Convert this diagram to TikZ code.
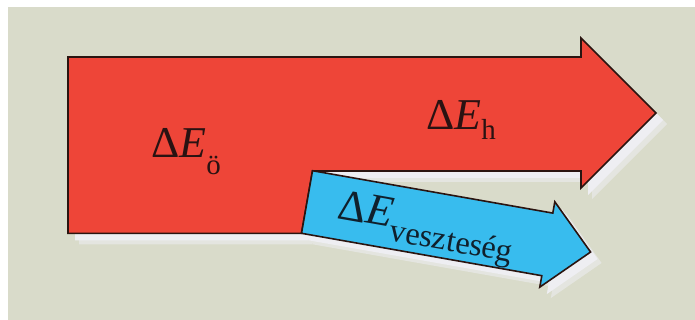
\documentclass[tikz,border=0pt]{standalone}
\usepackage{fontspec}
\setmainfont{Liberation Serif}
\definecolor{bgbeige}{HTML}{D9DBCA}
\definecolor{arrred}{HTML}{EE4538}
\definecolor{arrblue}{HTML}{38BCEE}
\definecolor{edgedark}{HTML}{2A1410}
\definecolor{shadowc}{HTML}{EEEEF2}
\definecolor{txtdark}{HTML}{2A1212}
\definecolor{txtnavy}{HTML}{10202C}
\newcommand\dElabel[3]{\fontsize{44}{48}\selectfont Δ\textit{E}\raisebox{#1}{\fontsize{#3}{34}\selectfont #2}}
\newcommand\redoutline{(68,57) -- (581,57) -- (581,38) -- (656,113) -- (581,188) -- (581,171) -- (312.5,171) -- (301.5,233.3) -- (68,233.3) -- cycle}
\newcommand\blueoutline{(312.5,170.7) -- (552.8,213.1) -- (554.8,201.8) -- (590.6,252.0) -- (539.8,287.1) -- (541.8,275.7) -- (301.5,233.3) -- cycle}
\tikzset{
  arrowshape/.style={draw=edgedark, line width=1.6pt, line join=miter},
  lbl/.style={anchor=base west, inner sep=0pt, text=txtdark}
}
\begin{document}
\begin{tikzpicture}[x=1pt,y=-1pt]
\useasboundingbox (0,0) rectangle (695,320);
\fill[white] (0,0) rectangle (695,320);
\fill[bgbeige] (8,7) rectangle (695,320);
% shadows
\begin{scope}[shift={(11,11)}]
\fill[shadowc!55!bgbeige] \redoutline;
\fill[shadowc!55!bgbeige] \blueoutline;
\end{scope}
\begin{scope}[shift={(7,7)}]
\fill[shadowc] \redoutline;
\fill[shadowc] \blueoutline;
\end{scope}
% red arrow
\filldraw[arrowshape, fill=arrred] \redoutline;
% blue arrow
\filldraw[arrowshape, fill=arrblue] \blueoutline;
% labels
\node[lbl] (lo) at (151,158) {\dElabel{-17pt}{ö}{29}};
\node[lbl] (lh) at (426,129.5) {\dElabel{-10pt}{h}{29}};
\node[lbl, text=txtnavy, rotate=-10] (lv) at (336,218) {\dElabel{-13pt}{veszteség}{32.5}};
\end{tikzpicture}
\end{document}
